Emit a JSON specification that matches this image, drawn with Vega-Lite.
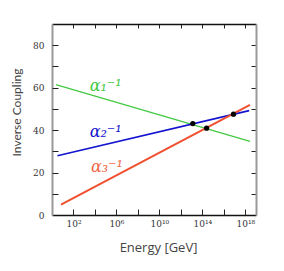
{
  "$schema": "https://vega.github.io/schema/vega-lite/v6.json",
  "width": 204,
  "height": 191,
  "autosize": {"type": "none"},
  "padding": {"left": 52, "top": 24, "right": 28, "bottom": 56},
  "background": "white",
  "config": {"view": {"stroke": null}, "axis": {"grid": false}},
  "datasets": {
    "lines": [
      {"coupling": "a1", "energy": 2.3, "value": 61.4},
      {"coupling": "a1", "energy": 2.75e18, "value": 34.7},
      {"coupling": "a2", "energy": 3.2, "value": 27.9},
      {"coupling": "a2", "energy": 2.3e18, "value": 49.2},
      {"coupling": "a3", "energy": 6.9, "value": 4.9},
      {"coupling": "a3", "energy": 2.75e18, "value": 51.9}
    ],
    "points": [
      {"energy": 1.3e13, "value": 43.1},
      {"energy": 2.5e14, "value": 40.9},
      {"energy": 8e16, "value": 47.5}
    ],
    "labels": [
      {"coupling": "a1", "energy": 1.0e5, "value": 61.0, "text": "α₁⁻¹"},
      {"coupling": "a2", "energy": 1.0e5, "value": 39.3, "text": "α₂⁻¹"},
      {"coupling": "a3", "energy": 1.3e5, "value": 22.5, "text": "α₃⁻¹"}
    ]
  },
  "layer": [
    {
      "data": {"name": "lines"},
      "mark": {"type": "line", "strokeCap": "butt"},
      "encoding": {
        "x": {
          "field": "energy",
          "type": "quantitative",
          "scale": {"type": "log", "domain": [1, 1e19], "nice": false},
          "axis": {
            "orient": "bottom",
            "title": "Energy [GeV]",
            "values": [1e2, 1e6, 1e10, 1e14, 1e18],
            "labelExpr": "datum.value == 1e2 ? '10²' : datum.value == 1e6 ? '10⁶' : datum.value == 1e10 ? '10¹⁰' : datum.value == 1e14 ? '10¹⁴' : datum.value == 1e18 ? '10¹⁸' : ''",
            "ticks": false,
            "domainColor": "#111",
            "domainWidth": 1.5,
            "labelPadding": 4,
            "labelFont": "DejaVu Serif",
            "labelFontSize": 9,
            "labelColor": "#333",
            "titleFont": "Open Sans",
            "titleFontSize": 13,
            "titleFontWeight": "normal",
            "titleColor": "#444",
            "titlePadding": 13,
            "titleX": 106
          }
        },
        "y": {
          "field": "value",
          "type": "quantitative",
          "scale": {"domain": [0, 90], "nice": false},
          "axis": {
            "orient": "left",
            "title": "Inverse Coupling",
            "values": [0, 20, 40, 60, 80],
            "ticks": false,
            "domainColor": "#999",
            "domainWidth": 2,
            "labelPadding": 8,
            "labelFont": "DejaVu Serif",
            "labelFontSize": 9,
            "labelColor": "#333",
            "titleFont": "Lato",
            "titleFontSize": 12,
            "titleFontWeight": "normal",
            "titleColor": "#444",
            "titleX": -29,
            "titleY": 88
          }
        },
        "detail": {"field": "coupling"},
        "color": {"field": "coupling", "type": "nominal", "scale": {"domain": ["a1", "a2", "a3"], "range": ["#44c944", "#1414d0", "#f05030"]}, "legend": null},
        "strokeWidth": {"field": "coupling", "type": "nominal", "scale": {"domain": ["a1", "a2", "a3"], "range": [1.4, 2, 5.5]}, "legend": null}
      }
    },
    {
      "data": {"name": "points"},
      "mark": {"type": "circle", "color": "black", "opacity": 1, "size": 28},
      "encoding": {
        "x": {
          "field": "energy",
          "type": "quantitative",
          "scale": {"type": "log", "domain": [1, 1e19], "nice": false},
          "axis": {
            "orient": "top",
            "offset": -191,
            "title": null,
            "values": [1e2, 1e4, 1e6, 1e8, 1e10, 1e12, 1e14, 1e16, 1e18],
            "labels": false,
            "domain": false,
            "tickColor": "#222",
            "tickSize": 6
          }
        },
        "y": {
          "field": "value",
          "type": "quantitative",
          "scale": {"domain": [0, 90], "nice": false},
          "axis": {
            "orient": "right",
            "offset": -204,
            "title": null,
            "values": [10, 20, 30, 40, 50, 60, 70, 80],
            "labels": false,
            "domain": false,
            "tickColor": "#222",
            "tickSize": 6
          }
        }
      }
    },
    {
      "data": {"name": "labels"},
      "mark": {"type": "text", "font": "DejaVu Serif", "fontSize": 16, "fontStyle": "italic", "align": "center", "baseline": "middle"},
      "encoding": {
        "x": {
          "field": "energy",
          "type": "quantitative",
          "scale": {"type": "log", "domain": [1, 1e19], "nice": false},
          "axis": {
            "orient": "bottom",
            "offset": -191,
            "title": null,
            "values": [1e2, 1e4, 1e6, 1e8, 1e10, 1e12, 1e14, 1e16, 1e18],
            "labels": false,
            "domainColor": "#111",
            "domainWidth": 1.5,
            "tickColor": "#222",
            "tickSize": 4
          }
        },
        "y": {
          "field": "value",
          "type": "quantitative",
          "scale": {"domain": [0, 90], "nice": false},
          "axis": {
            "orient": "left",
            "offset": -204,
            "title": null,
            "values": [10, 20, 30, 40, 50, 60, 70, 80],
            "labels": false,
            "domainColor": "#999",
            "domainWidth": 2,
            "tickColor": "#222",
            "tickSize": 5
          }
        },
        "text": {"field": "text"},
        "color": {"field": "coupling", "type": "nominal", "scale": {"domain": ["a1", "a2", "a3"], "range": ["#44c944", "#1414d0", "#f06848"]}, "legend": null}
      }
    }
  ],
  "resolve": {"scale": {"color": "independent"}, "axis": {"x": "independent", "y": "independent"}}
}
